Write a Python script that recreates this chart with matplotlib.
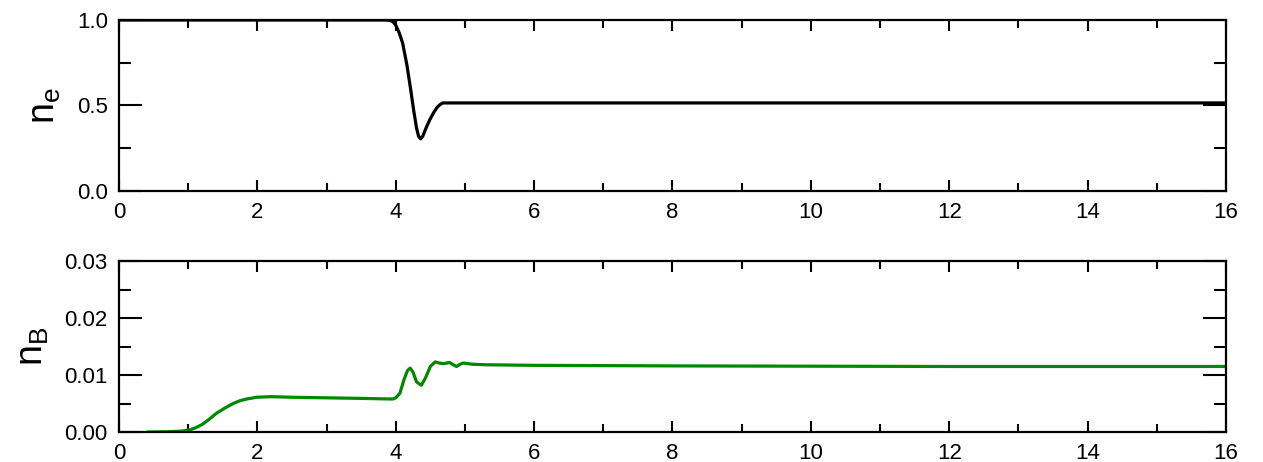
import numpy as np
import matplotlib.pyplot as plt
from matplotlib.ticker import MultipleLocator

plt.rcParams['font.family'] = ['Liberation Sans', 'DejaVu Sans']
plt.rcParams['mathtext.fontset'] = 'custom'
plt.rcParams['mathtext.rm'] = 'Liberation Sans'

# n_e (painel de cima)
t_e = [0.0, 3.85, 3.92, 3.96, 4.0, 4.05, 4.1, 4.16, 4.21, 4.26, 4.3, 4.33, 4.36, 4.39, 4.44,
       4.49, 4.55, 4.6, 4.64, 4.68, 5.0, 8.0, 16.0]
n_e = [1.0, 1.0, 0.998, 0.99, 0.97, 0.925, 0.865, 0.74, 0.61, 0.47, 0.37, 0.32, 0.305, 0.32, 0.37,
       0.415, 0.46, 0.49, 0.505, 0.515, 0.515, 0.515, 0.515]

# n_B (painel de baixo)
t_b = [0.42, 0.7, 0.9, 1.0, 1.1, 1.2, 1.3, 1.41, 1.53, 1.65, 1.75, 1.85, 1.99, 2.2, 2.5, 3.0,
       3.5, 3.9, 3.96, 4.0, 4.06, 4.12, 4.17, 4.21, 4.25, 4.3, 4.37, 4.43, 4.5, 4.57, 4.63,
       4.69, 4.78, 4.83, 4.88, 4.93, 4.98, 5.1, 5.3, 6.0, 8.0, 12.0, 16.0]
n_b = [0.0, 0.00005, 0.00015, 0.0003, 0.0007, 0.0013, 0.0022, 0.0033, 0.0042, 0.005, 0.0055,
       0.0058, 0.0061, 0.0062, 0.0061, 0.006, 0.0059, 0.0058, 0.0058, 0.006, 0.0068, 0.0092,
       0.0108, 0.0112, 0.0105, 0.0088, 0.0082, 0.0095, 0.0115, 0.0123, 0.0121, 0.012, 0.0122,
       0.0118, 0.0115, 0.0119, 0.0121, 0.0119, 0.0118, 0.0117, 0.0116, 0.0115, 0.0115]

fig = plt.figure(figsize=(12.63, 4.62), dpi=100)
ax1 = fig.add_axes([0.0942, 0.5866, 0.8765, 0.3701])
ax2 = fig.add_axes([0.0942, 0.0649, 0.8765, 0.3701])

ax1.plot(t_e, n_e, color='black', lw=2.3)
ax2.plot(t_b, n_b, color='#008800', lw=2.3)

ax1.set_ylim(0, 1.0)
ax1.yaxis.set_major_locator(MultipleLocator(0.5))
ax1.yaxis.set_minor_locator(MultipleLocator(0.25))
ax1.yaxis.set_major_formatter(plt.FormatStrFormatter('%.1f'))

ax2.set_ylim(0, 0.03)
ax2.yaxis.set_major_locator(MultipleLocator(0.01))
ax2.yaxis.set_minor_locator(MultipleLocator(0.005))
ax2.yaxis.set_major_formatter(plt.FormatStrFormatter('%.2f'))

for ax in (ax1, ax2):
    ax.set_xlim(0, 16)
    ax.xaxis.set_major_locator(MultipleLocator(2))
    ax.xaxis.set_minor_locator(MultipleLocator(1))
    for s in ax.spines.values():
        s.set_linewidth(1.6)
    ax.tick_params(which='both', direction='in', top=True, right=True, width=1.5,
                   labelsize=16)
    ax.tick_params(axis='x', which='major', length=8, pad=8)
    ax.tick_params(axis='x', which='minor', length=5.8)
    ax.tick_params(axis='y', which='major', length=16.5, pad=8)
    ax.tick_params(axis='y', which='minor', length=8.6)

ax1.set_ylabel(r'$\mathregular{n_e}$', fontsize=27, labelpad=10)
ax2.set_ylabel(r'$\mathregular{n_B}$', fontsize=27, labelpad=10)

plt.savefig('out.png', dpi=100)
